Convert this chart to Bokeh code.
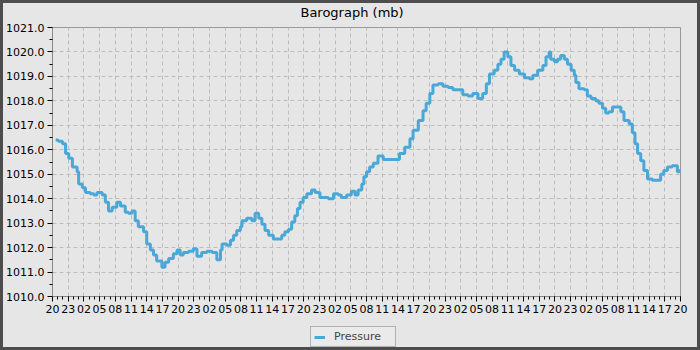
from bokeh.plotting import figure
from bokeh.layouts import column
from bokeh.models import FixedTicker, Legend, LegendItem, Range1d, PrintfTickFormatter
from bokeh.core.properties import value
from bokeh.embed import file_html
from bokeh.resources import INLINE

# hours since the first tick (20:00 of day 1)
hours = [0.6, 1.1, 1.9, 2.5, 3.1, 3.8, 4.7, 5.0, 5.7, 6.3, 7.2, 7.9, 8.5, 9.5, 10.1, 10.7,
         11.4, 12.3, 13.0, 13.9, 14.5, 15.2, 15.8, 16.4, 17.4, 18.0, 18.7, 19.3, 19.9, 20.9,
         21.5, 22.2, 23.1, 23.8, 24.4, 25.0, 26.0, 26.9, 27.6, 28.5, 29.5, 30.5, 31.4, 32.1,
         32.4, 33.3, 34.0, 34.6, 35.2, 35.9, 36.2, 37.1, 38.1, 38.7, 39.4, 40.0, 40.6, 41.3,
         42.2, 43.2, 43.8, 44.4, 45.1, 45.7, 46.3, 46.8, 47.3, 47.9, 48.6, 49.5, 50.2, 51.1,
         52.1, 52.7, 53.7, 54.6, 55.2, 56.2, 57.1, 57.8, 58.4, 59.1, 59.5, 60.0, 60.6, 61.3,
         62.2, 63.2, 64.4, 65.7, 66.3, 67.3, 68.3, 68.9, 69.9, 70.8, 71.4, 72.1, 72.7, 73.7,
         74.6, 75.6, 76.5, 77.5, 78.4, 79.4, 80.3, 81.3, 82.2, 82.9, 83.5, 84.4, 85.1, 85.7,
         86.3, 87.0, 87.6, 88.3, 89.2, 90.2, 91.1, 91.8, 92.7, 93.7, 94.3, 94.9, 95.2, 95.9,
         96.5, 97.1, 97.8, 98.4, 99.1, 99.7, 100.0, 100.6, 101.6, 102.2, 102.9, 103.8, 104.4,
         105.1, 105.7, 106.3, 107.0, 107.9, 108.6, 109.2, 110.2, 110.8, 111.3, 111.8, 112.4,
         113.0, 113.7, 114.6, 115.6, 116.2, 116.8, 117.5, 118.4, 119.1, 119.4, 119.8]
pressure = [1016.4, 1016.35, 1016.25, 1015.85, 1015.65, 1015.3, 1015.1, 1014.6, 1014.45,
            1014.25, 1014.2, 1014.15, 1014.25, 1014.15, 1013.85, 1013.5, 1013.65, 1013.85,
            1013.7, 1013.45, 1013.4, 1013.5, 1013.1, 1012.85, 1012.65, 1012.15, 1011.9,
            1011.7, 1011.45, 1011.2, 1011.4, 1011.55, 1011.75, 1011.9, 1011.7, 1011.8,
            1011.85, 1011.95, 1011.65, 1011.8, 1011.85, 1011.8, 1011.5, 1011.9, 1012.15,
            1012.1, 1012.3, 1012.5, 1012.7, 1012.85, 1013.1, 1013.2, 1013.1, 1013.4, 1013.2,
            1012.95, 1012.7, 1012.5, 1012.35, 1012.35, 1012.5, 1012.65, 1012.75, 1013.05,
            1013.3, 1013.6, 1013.85, 1014.05, 1014.2, 1014.35, 1014.25, 1014.05, 1014.05,
            1014.0, 1014.2, 1014.15, 1014.05, 1014.15, 1014.3, 1014.15, 1014.35, 1014.6,
            1014.9, 1015.1, 1015.3, 1015.45, 1015.75, 1015.6, 1015.6, 1015.6, 1015.85, 1016.1,
            1016.45, 1016.8, 1017.2, 1017.6, 1017.9, 1018.3, 1018.65, 1018.7, 1018.6, 1018.55,
            1018.45, 1018.45, 1018.25, 1018.2, 1018.3, 1018.1, 1018.3, 1018.7, 1019.1, 1019.25,
            1019.5, 1019.7, 1020.0, 1019.8, 1019.45, 1019.25, 1019.1, 1018.95, 1018.9, 1019.05,
            1019.25, 1019.45, 1019.8, 1020.0, 1019.7, 1019.6, 1019.7, 1019.85, 1019.7, 1019.5,
            1019.25, 1019.05, 1018.75, 1018.5, 1018.45, 1018.2, 1018.1, 1018.0, 1017.9, 1017.7,
            1017.5, 1017.55, 1017.75, 1017.75, 1017.55, 1017.2, 1017.05, 1016.7, 1016.25,
            1015.85, 1015.55, 1015.15, 1014.8, 1014.75, 1014.75, 1015.0, 1015.15, 1015.3,
            1015.35, 1015.35, 1015.1, 1015.2]

tick_hours = list(range(0, 121, 3))
day_labels = ["20", "23", "02", "05", "08", "11", "14", "17"]
tick_labels = day_labels * 5 + ["20"]
y_ticks = [1010, 1011, 1012, 1013, 1014, 1015, 1016, 1017, 1018, 1019, 1020, 1021]
title_text = "Barograph (mb)"
series_name = "Pressure"

BG = "#e6e6e6"
LINE = "#4aa8d8"
W = 694

# title strip (its frame is aligned with the chart frame by the column layout,
# so its x range is given in page pixels 50..680)
tf = figure(width=W, height=17, output_backend="svg", toolbar_location=None,
            x_range=Range1d(50, 680), y_range=Range1d(0, 17), min_border=0,
            x_axis_type=None, y_axis_type=None,
            background_fill_color=BG, border_fill_color=BG)
tf.outline_line_color = None
tf.grid.visible = False
tf.text(x=[350.5], y=[8], text=[title_text], text_align="center",
        text_baseline="middle", text_font=value("DejaVu Sans"),
        text_font_size="13px", text_color="#000000")

# main chart
p = figure(width=W, height=305, output_backend="svg", toolbar_location=None,
           x_range=Range1d(0, 120), y_range=Range1d(1010, 1021),
           min_border_left=47, min_border_right=17, min_border_top=7, min_border_bottom=29,
           background_fill_color=BG, border_fill_color=BG)

r = p.step(hours, pressure, mode="after", line_color=LINE, line_width=3)

p.outline_line_color = "#999999"
p.outline_line_width = 1

p.xaxis.ticker = FixedTicker(ticks=tick_hours, minor_ticks=list(range(0, 121)))
p.xaxis.major_label_overrides = {h: l for h, l in zip(tick_hours, tick_labels)}
p.yaxis.ticker = FixedTicker(ticks=y_ticks, minor_ticks=[v + 0.5 for v in y_ticks[:-1]])
p.yaxis.formatter = PrintfTickFormatter(format="%.1f")

for ax in (p.xaxis[0], p.yaxis[0]):
    ax.axis_line_color = "#888888"
    ax.major_tick_line_color = "#000000"
    ax.minor_tick_line_color = "#000000"
    ax.major_tick_in = 0
    ax.minor_tick_in = 0
    ax.major_tick_out = 5
    ax.minor_tick_out = 3
    ax.major_label_text_font = "DejaVu Sans"
    ax.major_label_text_font_size = "11px"
    ax.major_label_text_color = "#000000"
    ax.major_label_standoff = 3

p.xgrid.grid_line_color = "#bdbdbd"
p.ygrid.grid_line_color = "#bdbdbd"
p.xgrid.grid_line_dash = "4 3"
p.ygrid.grid_line_dash = "4 3"

# legend strip under the chart
lf = figure(width=W, height=22, output_backend="svg", toolbar_location=None,
            x_range=Range1d(0, 1), y_range=Range1d(0, 1), min_border=0,
            x_axis_type=None, y_axis_type=None,
            background_fill_color=BG, border_fill_color=BG)
lf.outline_line_color = None
lf.grid.visible = False
lr = lf.line([-10, -9], [-10, -9], line_color=LINE, line_width=3)

legend = Legend(items=[LegendItem(label=series_name, renderers=[lr])],
                orientation="horizontal", location=(258, 0))
legend.label_text_font = "DejaVu Sans"
legend.label_text_font_size = "11px"
legend.glyph_width = 11
legend.glyph_height = 12
legend.label_height = 12
legend.label_standoff = 9
legend.label_width = 58
legend.padding = 3
legend.margin = 0
legend.border_line_color = "#777777"
legend.background_fill_color = "#eaeaea"
legend.background_fill_alpha = 1.0
lf.add_layout(legend)

layout = column(tf, p, lf, spacing=0, styles={"border": "3px solid #4d4d4d", "background-color": BG})

open("out.html", "w").write(file_html(layout, INLINE))
